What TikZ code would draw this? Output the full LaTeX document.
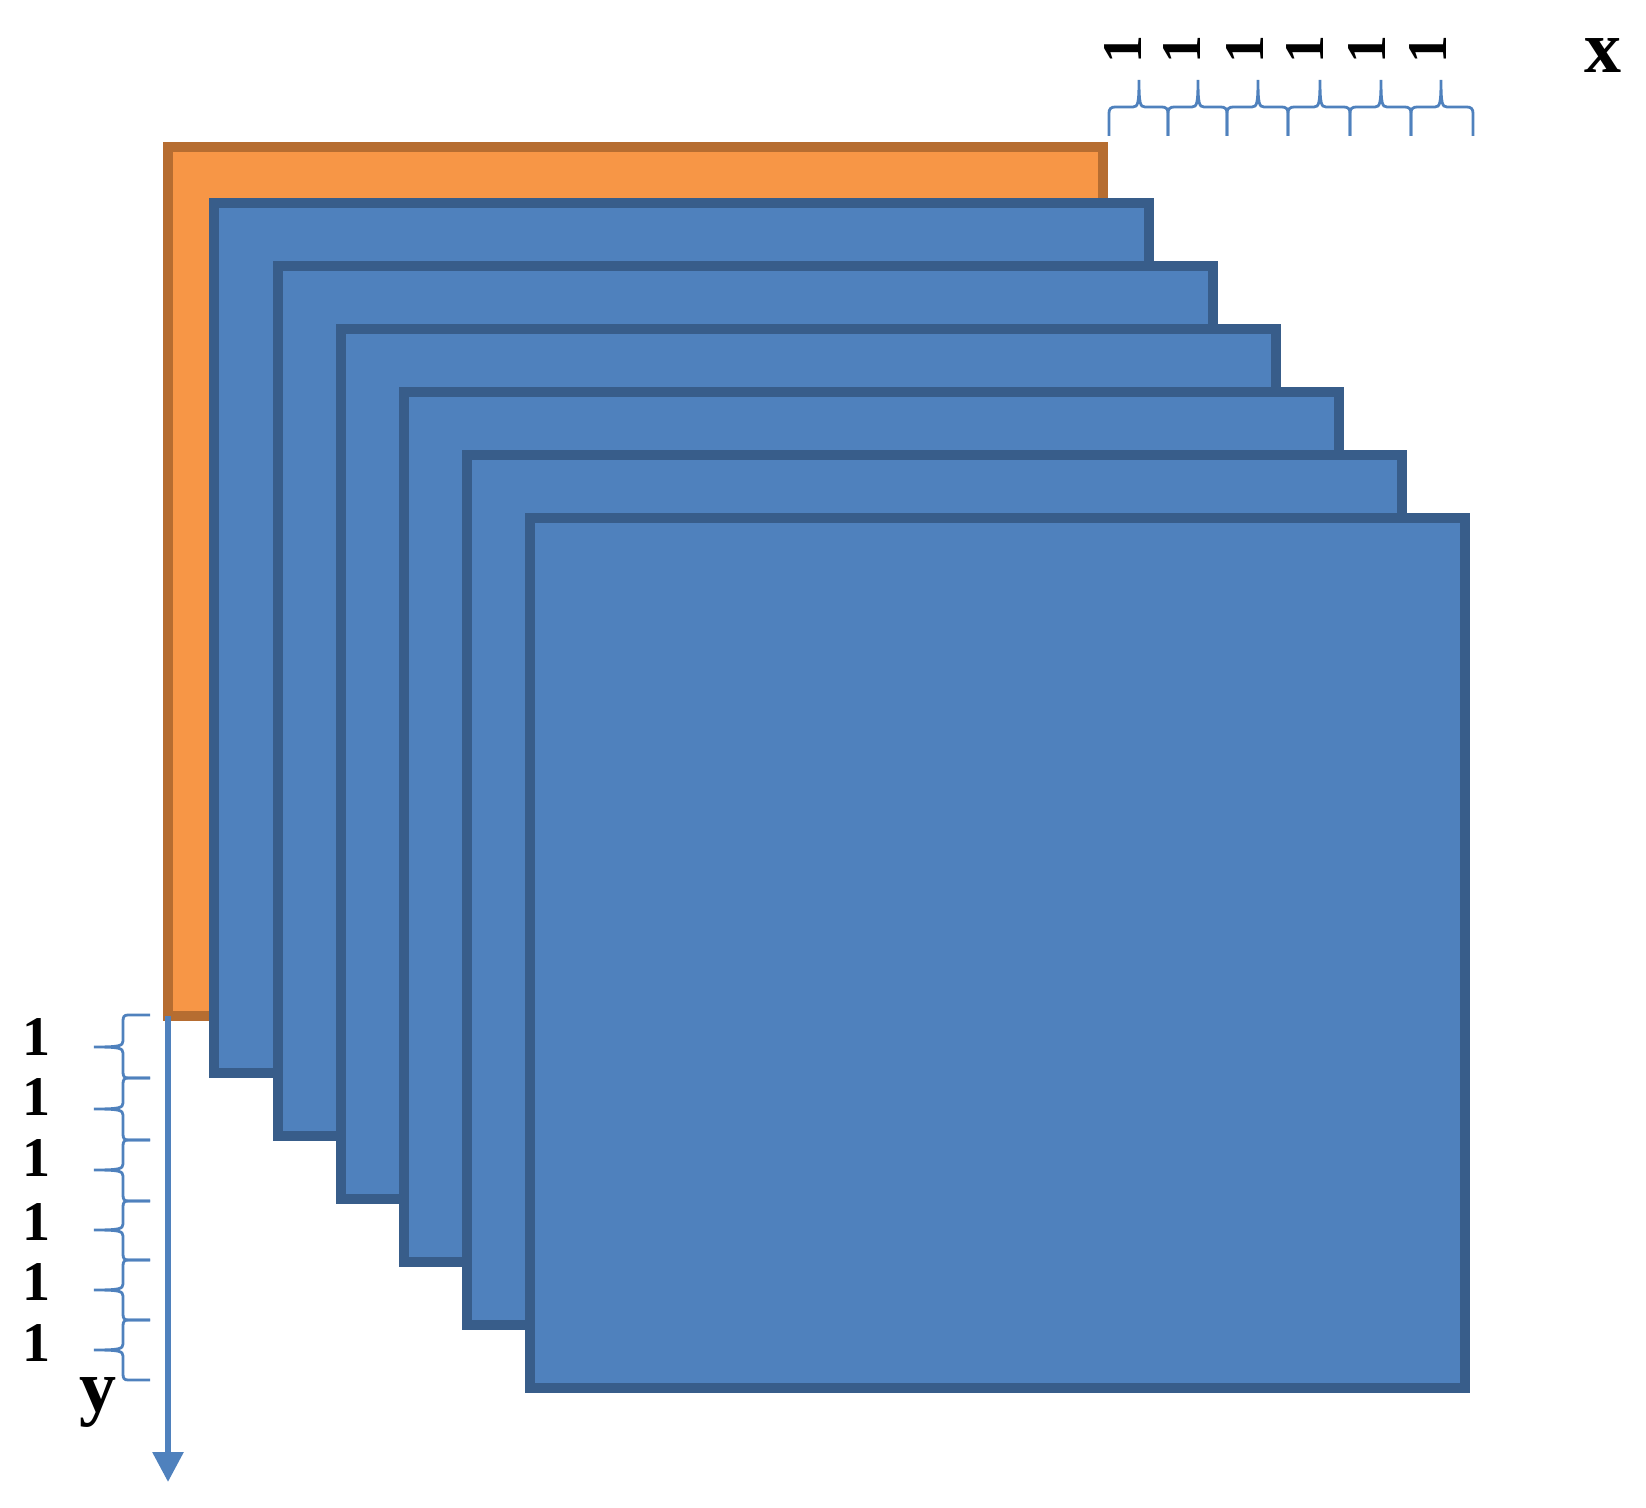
\documentclass[tikz,border=0pt]{standalone}
\usepackage{fontspec}
\setmainfont{Liberation Serif}
\usetikzlibrary{arrows.meta}
\definecolor{ofill}{HTML}{F79646}
\definecolor{oline}{HTML}{B66D31}
\definecolor{bfill}{HTML}{4F81BD}
\definecolor{bline}{HTML}{385D8A}
\definecolor{brc}{HTML}{4F81BD}
\begin{document}
\begin{tikzpicture}[x=0.5pt,y=-0.5pt,
  sheet/.style={line width=5pt,line join=miter},
  osheet/.style={sheet,fill=ofill,draw=oline},
  bsheet/.style={sheet,fill=bfill,draw=bline},
  bracestyle/.style={draw=brc,line width=1.4pt},
  onelabel/.style={font=\fontsize{28}{30}\selectfont\bfseries,inner sep=0pt},
  axlabel/.style={font=\fontsize{37}{40}\selectfont\bfseries,inner sep=0pt}]
\useasboundingbox (0,0) rectangle (1646,1508);
% sheets
\draw[osheet] (168,147) rectangle (1103,1016);
\coordinate (ybl) at (168,1016);
\foreach \x/\y in {214/203,278/266,341/329,404/392,467/455,530/518}{
  \draw[bsheet] (\x,\y) rectangle ++(935,870);
}
% y axis arrow
\coordinate (yend) at (168,1482);
\draw[draw=brc,line width=3pt,-{Triangle[length=15pt,width=15pt]}] (ybl) -- (yend);
% left braces
\foreach \ya/\yb/\yt [count=\i] in {1015/1078/1047,1078/1140/1109,1140/1201/1170,1201/1260/1230,1260/1320/1290,1320/1380/1350}{
  \draw[bracestyle] (150,\ya) -- (128,\ya) .. controls (124,\ya) and (123,\ya+2) .. (123,\ya+6)
     -- (123,\yt-6) .. controls (123,\yt-1) and (119,\yt) .. (94,\yt)
     .. controls (119,\yt) and (123,\yt+1) .. (123,\yt+6)
     -- (123,\yb-6) .. controls (123,\yb-2) and (124,\yb) .. (128,\yb) -- (150,\yb);
}
% left labels
\foreach \yy [count=\i] in {1037,1097,1158,1222,1282,1343}{
  \node[onelabel] (l\i) at (37,\yy) {1};
}
\node[axlabel] (ylab) at (98,1402) {y};
% top braces
\foreach \xa/\xb/\xt [count=\i] in {1109/1168/1139,1168/1227/1198,1227/1288/1258,1288/1350/1320,1350/1411/1381,1411/1473/1441}{
  \draw[bracestyle] (\xa,136) -- (\xa,113) .. controls (\xa,109) and (\xa+2,107) .. (\xa+6,107)
     -- (\xt-6,107) .. controls (\xt-1,107) and (\xt,103) .. (\xt,80)
     .. controls (\xt,103) and (\xt+1,107) .. (\xt+6,107)
     -- (\xb-6,107) .. controls (\xb-2,107) and (\xb,109) .. (\xb,113) -- (\xb,136);
}
% top labels
\foreach \xx [count=\i] in {1123,1182,1245,1305,1367,1428}{
  \node[onelabel,rotate=90] (t\i) at (\xx,50) {1};
}
\node[axlabel] (xlab) at (1603,56) {x};
\end{tikzpicture}
\end{document}
